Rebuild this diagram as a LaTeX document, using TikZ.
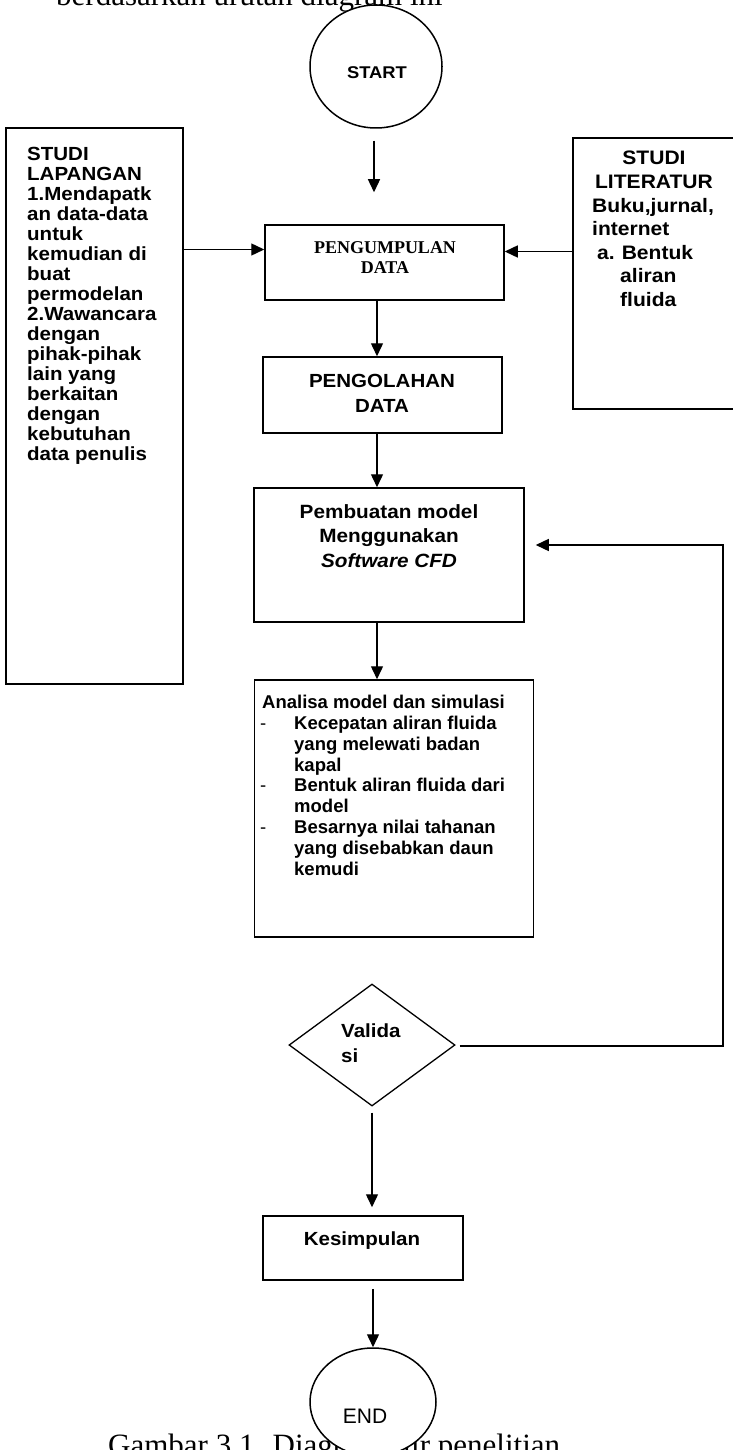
\documentclass[tikz,border=0pt]{standalone}
\usepackage{fontspec}
\setmainfont{Liberation Serif}
\setsansfont{Liberation Sans}
\newfontfamily\widesans[FakeStretch=1.08]{Liberation Sans}
\usetikzlibrary{arrows.meta,shapes.geometric,calc}
\begin{document}
\begin{tikzpicture}[x=1pt,y=-1pt,
  box/.style={draw, rectangle, line width=1.5pt, inner sep=0pt},
  ell/.style={draw, ellipse, line width=1.5pt, fill=white, inner sep=0pt},
  dia/.style={draw, diamond, line width=1.3pt, inner sep=0pt},
  tx/.style={inner sep=0pt, font=\widesans\bfseries\fontsize{19}{20}\selectfont},
  arr/.style={line width=1.4pt, -{Triangle[length=13pt,width=12pt]}},
  ln/.style={line width=1.4pt}]
\useasboundingbox (0,0) rectangle (732,1450);

% running text above and caption below
\node[anchor=base west, inner sep=0pt, font=\fontsize{31}{31}\selectfont] (intro) at (56,6) {berdasarkan urutan diagram ini};
\node[anchor=base west, inner sep=0pt, font=\fontsize{31}{31}\selectfont] (cap) at (108,1455) {Gambar 3.1. Diagram alir penelitian};

% nodes
\node[ell, minimum width=132, minimum height=123] (start) at (376,66.5) {};
\node[tx, font=\widesans\bfseries\fontsize{17}{20}\selectfont, anchor=base] (startt) at (377,79) {START};

\node[box, minimum width=177, minimum height=556] (lap) at (94.5,406) {};
\node[tx, anchor=north west, align=left] (lapt) at (27,147.5) {STUDI\\LAPANGAN\\1.Mendapatk\\an data-data\\untuk\\kemudian di\\buat\\permodelan\\2.Wawancara\\dengan\\pihak-pihak\\lain yang\\berkaitan\\dengan\\kebutuhan\\data penulis};

\node[box, minimum width=180, minimum height=271] (lit) at (663,273.5) {};
\node[tx, font=\widesans\bfseries\fontsize{19.5}{23.5}\selectfont, anchor=north, align=center] (litt) at (654,151) {STUDI\\LITERATUR};
\node[tx, font=\widesans\bfseries\fontsize{19.5}{23.5}\selectfont, anchor=north west, align=left] (litb) at (592,198) {Buku,jurnal,\\internet\\\hspace*{5pt}a.\hspace*{7pt}Bentuk\\\hspace*{28pt}aliran\\\hspace*{28pt}fluida};

\node[box, minimum width=239, minimum height=75] (pen) at (384.5,262.5) {};
\node[anchor=north, align=center, inner sep=0pt, font=\rmfamily\bfseries\fontsize{18}{20}\selectfont] (pent) at (385,241) {PENGUMPULAN\\DATA};

\node[box, minimum width=239, minimum height=76] (olah) at (382.5,395) {};
\node[tx, font=\widesans\bfseries\fontsize{19}{25}\selectfont, anchor=north, align=center] (olaht) at (382,374.5) {PENGOLAHAN\\DATA};

\node[box, minimum width=270, minimum height=134] (buat) at (389,555) {};
\node[tx, font=\widesans\bfseries\fontsize{19.2}{24.5}\selectfont, anchor=north, align=center] (buatt) at (389,504) {Pembuatan model\\Menggunakan\\\textit{Software CFD}};

\node[box, minimum width=279, minimum height=257] (anal) at (394,808.5) {};
\node[inner sep=0pt, font=\sffamily\bfseries\fontsize{18.5}{20.8}\selectfont, anchor=north west, align=left] (analt) at (260,695) {\hspace*{2pt}Analisa model dan simulasi\\
\makebox[34pt][l]{\mdseries -}Kecepatan aliran fluida\\
\hspace*{34pt}yang melewati badan\\
\hspace*{34pt}kapal\\
\makebox[34pt][l]{\mdseries -}Bentuk aliran fluida dari\\
\hspace*{34pt}model\\
\makebox[34pt][l]{\mdseries -}Besarnya nilai tahanan\\
\hspace*{34pt}yang disebabkan daun\\
\hspace*{34pt}kemudi};

\node[dia, minimum width=166, minimum height=122] (valid) at (372,1045) {};
\node[tx, font=\widesans\bfseries\fontsize{19}{25}\selectfont, anchor=north west, align=left] (validt) at (341,1023.5) {Valida\\si};

\node[box, minimum width=200, minimum height=64] (kes) at (363,1248) {};
\node[tx, anchor=base] (kest) at (362,1245) {Kesimpulan};

\node[ell, minimum width=126, minimum height=108] (end) at (373,1402) {};
\node[inner sep=0pt, font=\sffamily\fontsize{21}{21}\selectfont, anchor=base] (endt) at (365,1423) {END};

% connectors
\coordinate (ax) at (374,0);
\coordinate (ax2) at (377,0);
\coordinate (fb) at (723,0);
\draw[arr] ($(start.south -| ax)+(0,12)$) -- ($(pen.north -| ax)+(0,-32)$);
\draw[arr] ($(lap.east |- pen.west)+(0,-13)$) -- ($(pen.west)+(0,-13)$);
\draw[arr] ($(lit.west |- pen.east)+(0,-11)$) -- ($(pen.east)+(0,-11)$);
\draw[arr] (pen.south -| ax2) -- (olah.north -| ax2);
\draw[arr] (olah.south -| ax2) -- (buat.north -| ax2);
\draw[arr] (buat.south -| ax2) -- (anal.north -| ax2);
\draw[arr] ($(valid.east)+(4,1)$) -| ($(fb |- buat.east)+(0,-10)$) -- ($(buat.east)+(11,-10)$);
\draw[arr] ($(valid.south)+(0,6)$) -- ($(kes.north -| valid.south)+(0,-8)$);
\draw[arr] ($(kes.south -| end.north)+(0,8)$) -- (end.north);
\end{tikzpicture}
\end{document}
